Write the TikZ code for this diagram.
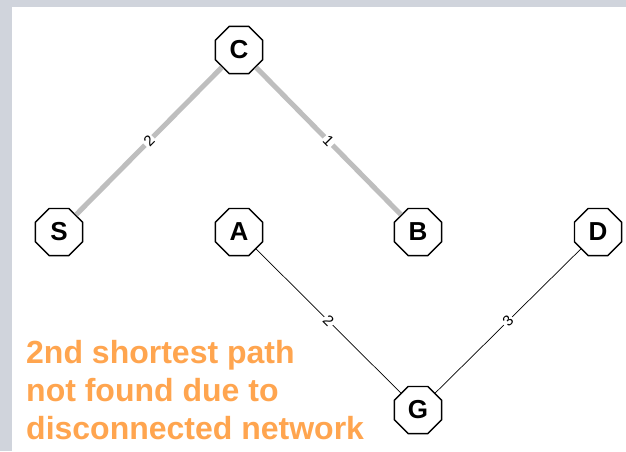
\documentclass[tikz,border=0pt]{standalone}
\usepackage{fontspec}
\setmainfont{Liberation Sans}
\usetikzlibrary{shapes.geometric}
\definecolor{framegray}{RGB}{208,212,220}
\definecolor{pathgray}{RGB}{190,190,190}
\definecolor{noteorange}{RGB}{255,165,79}
\begin{document}
\begin{tikzpicture}[x=1pt,y=-1pt,
  vertex/.style={regular polygon,regular polygon sides=8,draw=black,line width=1.4pt,
    fill=white,minimum size=51pt,inner sep=0pt,font=\fontsize{26}{26}\selectfont\bfseries},
  weight/.style={fill=white,inner sep=1.5pt,sloped,font=\fontsize{15}{15}\selectfont},
  shortest/.style={draw=pathgray,line width=5pt},
  plain/.style={draw=black,line width=0.7pt},
  noteline/.style={anchor=base west,text=noteorange,inner sep=0pt,
    font=\fontsize{32}{32}\selectfont\bfseries}]
  % frame and canvas
  \fill[framegray] (0,0) rectangle (626,451);
  \fill[white] (12,7) rectangle (626,451);
  \useasboundingbox (0,0) rectangle (626,451);
  % vertices
  \node[vertex] (C) at (239,50) {C};
  \node[vertex] (S) at (59,232) {S};
  \node[vertex] (A) at (239,232) {A};
  \node[vertex] (B) at (418,232) {B};
  \node[vertex] (D) at (598,232) {D};
  \node[vertex] (G) at (418,410) {G};
  % edges with their weights
  \path[shortest] (S) -- node[weight] {2} (C);
  \path[shortest] (C) -- node[weight] {1} (B);
  \path[plain] (A) -- node[weight] {2} (G);
  \path[plain] (G) -- node[weight] {3} (D);
  % note
  \node[noteline] (note1) at (26,363) {2nd shortest path};
  \node[noteline] (note2) at (26,401) {not found due to};
  \node[noteline] (note3) at (26,439) {disconnected network};
\end{tikzpicture}
\end{document}
